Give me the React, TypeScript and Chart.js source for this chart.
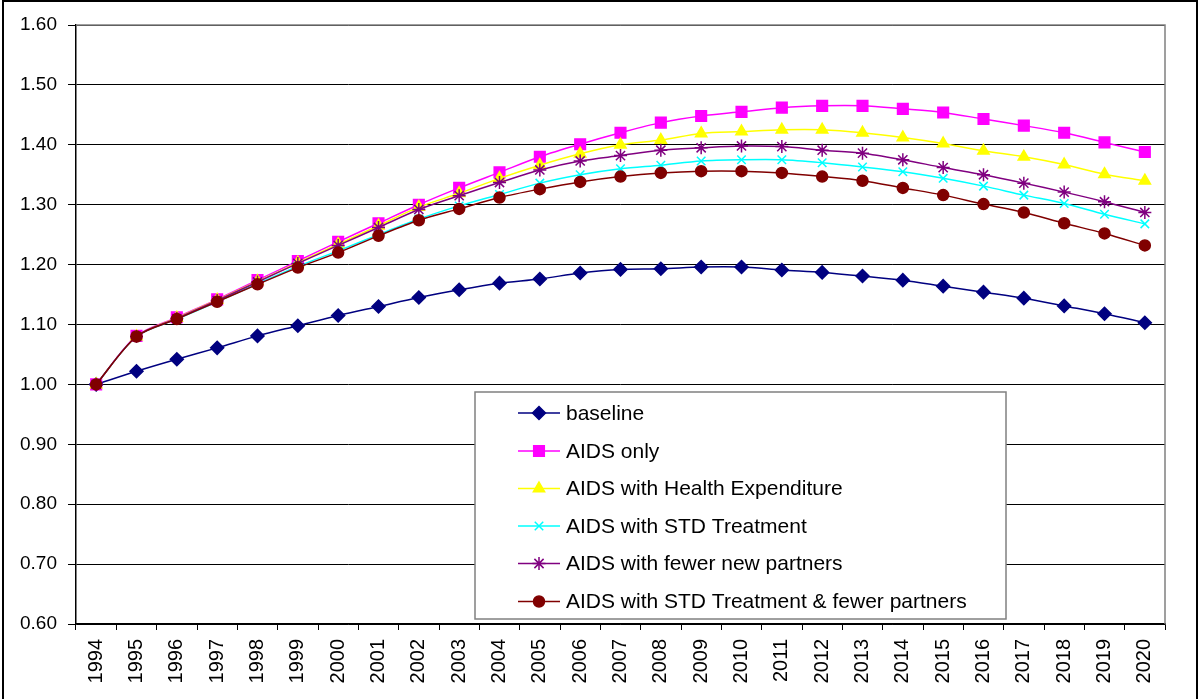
import React, { useEffect, useRef } from 'react';
import { Chart, registerables } from 'chart.js';
import { drawPoint } from 'chart.js/helpers';

Chart.register(...registerables);

const years = [
  '1994', '1995', '1996', '1997', '1998', '1999', '2000', '2001', '2002', '2003', '2004', '2005', '2006', '2007',
  '2008', '2009', '2010', '2011', '2012', '2013', '2014', '2015', '2016', '2017', '2018', '2019', '2020',
];

const baseline = [
  1.0, 1.022, 1.042, 1.061, 1.081, 1.098, 1.115, 1.13, 1.145, 1.158, 1.169, 1.176, 1.186, 1.192,
  1.193, 1.196, 1.196, 1.191, 1.187, 1.181, 1.174, 1.164, 1.154, 1.144, 1.131, 1.118, 1.103,
];
const aidsOnly = [
  1.0, 1.081, 1.112, 1.142, 1.174, 1.206, 1.238, 1.269, 1.3, 1.328, 1.354, 1.38, 1.401, 1.42,
  1.437, 1.448, 1.455, 1.462, 1.465, 1.465, 1.46, 1.454, 1.443, 1.432, 1.42, 1.404, 1.388,
];
const aidsHealth = [
  1.0, 1.08, 1.111, 1.141, 1.172, 1.203, 1.234, 1.265, 1.296, 1.319, 1.344, 1.366, 1.385, 1.4,
  1.408, 1.419, 1.422, 1.425, 1.425, 1.42, 1.412, 1.402, 1.39, 1.38, 1.367, 1.351, 1.34,
];
const aidsStd = [
  1.0, 1.08, 1.109, 1.138, 1.168, 1.197, 1.223, 1.25, 1.276, 1.298, 1.317, 1.336, 1.35, 1.36,
  1.366, 1.373, 1.375, 1.375, 1.37, 1.363, 1.355, 1.344, 1.331, 1.316, 1.302, 1.284, 1.268,
];
const aidsFewer = [
  1.0, 1.08, 1.11, 1.14, 1.171, 1.202, 1.232, 1.262, 1.292, 1.315, 1.337, 1.358, 1.373, 1.382,
  1.391, 1.395, 1.398, 1.397, 1.391, 1.386, 1.375, 1.362, 1.35, 1.336, 1.321, 1.305, 1.287,
];
const aidsStdFewer = [
  1.0, 1.08, 1.109, 1.138, 1.167, 1.195, 1.22, 1.248, 1.274, 1.293, 1.312, 1.326, 1.338, 1.347,
  1.353, 1.356, 1.356, 1.353, 1.347, 1.34, 1.328, 1.316, 1.301, 1.287, 1.269, 1.252, 1.232,
];

const seriesLabels = [
  'baseline',
  'AIDS only',
  'AIDS with Health Expenditure',
  'AIDS with STD Treatment',
  'AIDS with fewer new partners',
  'AIDS with STD Treatment & fewer partners',
];
const seriesData = [baseline, aidsOnly, aidsHealth, aidsStd, aidsFewer, aidsStdFewer];
const seriesColors = ['#000080', '#FF00FF', '#FFFF00', '#00FFFF', '#800080', '#800000'];
const seriesPointStyles = ['rectRot', 'rect', 'triangle', 'crossRot', 'star', 'circle'];
const seriesPointRadius = [6.5, 7.5, 6.5, 6, 6.5, 5.5];

const FONT = '"Liberation Sans", Arial, sans-serif';

const legendBox = { left: 475, top: 392, right: 1006, bottom: 619 };
const legendRows = [413, 451, 488.5, 526, 563.5, 601.5];

const customPlugin = {
  id: 'customDecor',
  afterDatasetsDraw(chart: any) {
    const ctx = chart.ctx;
    ctx.save();
    ctx.fillStyle = '#ffffff';
    ctx.fillRect(legendBox.left, legendBox.top, legendBox.right - legendBox.left, legendBox.bottom - legendBox.top);
    ctx.strokeStyle = '#808080';
    ctx.lineWidth = 1.5;
    ctx.strokeRect(legendBox.left, legendBox.top, legendBox.right - legendBox.left, legendBox.bottom - legendBox.top);
    chart.data.datasets.forEach((ds: any, i: number) => {
      const y = legendRows[i];
      ctx.strokeStyle = ds.borderColor;
      ctx.lineWidth = 1.5;
      ctx.beginPath();
      ctx.moveTo(518, y);
      ctx.lineTo(560, y);
      ctx.stroke();
      ctx.fillStyle = ds.pointBackgroundColor;
      ctx.strokeStyle = ds.pointBorderColor;
      ctx.lineWidth = ds.pointBorderWidth;
      drawPoint(ctx, { pointStyle: ds.pointStyle, radius: ds.pointRadius, rotation: 0, borderWidth: ds.pointBorderWidth }, 539, y);
      ctx.fillStyle = '#000000';
      ctx.font = `21px ${FONT}`;
      ctx.textBaseline = 'middle';
      ctx.textAlign = 'left';
      ctx.fillText(ds.label, 566, y + 1);
    });
    ctx.restore();
  },
  afterDraw(chart: any) {
    const ctx = chart.ctx;
    const a = chart.chartArea;
    ctx.save();
    ctx.strokeStyle = '#808080';
    ctx.lineWidth = 1.5;
    ctx.beginPath();
    ctx.moveTo(a.left, a.top);
    ctx.lineTo(a.right, a.top);
    ctx.lineTo(a.right, a.bottom);
    ctx.stroke();
    ctx.strokeStyle = '#000000';
    ctx.lineWidth = 2;
    ctx.strokeRect(3, 1, 1194, 710);
    ctx.restore();
  },
};

export default function App() {
  const ref = useRef<HTMLCanvasElement>(null);
  useEffect(() => {
    document.body.style.margin = '0';
    const datasets = seriesLabels.map((label, i) => ({
      label,
      data: seriesData[i],
      borderColor: seriesColors[i],
      backgroundColor: seriesColors[i],
      pointBackgroundColor: seriesColors[i],
      pointBorderColor: seriesColors[i],
      pointStyle: seriesPointStyles[i],
      pointRadius: seriesPointRadius[i],
      pointHoverRadius: seriesPointRadius[i],
      pointBorderWidth: 1.5,
      borderWidth: 1.5,
      tension: 0.3,
      fill: false,
      order: seriesLabels.length - i,
    }));
    const chart = new Chart(ref.current!, {
      type: 'line',
      data: { labels: years, datasets },
      options: {
        animation: false,
        responsive: false,
        maintainAspectRatio: false,
        layout: { padding: { top: 25, right: 34, left: 0, bottom: 0 } },
        plugins: {
          legend: { display: false },
          tooltip: { enabled: false },
        },
        scales: {
          x: {
            type: 'category',
            offset: true,
            afterFit: (s: any) => {
              s.height = 75;
            },
            grid: {
              display: true,
              drawOnChartArea: false,
              drawTicks: true,
              offset: true,
              tickLength: 6,
              color: '#000000',
              lineWidth: 1,
            },
            border: { display: true, color: '#000000', width: 1.5 },
            ticks: {
              autoSkip: false,
              maxRotation: 90,
              minRotation: 90,
              padding: 9,
              color: '#000000',
              font: { family: FONT, size: 20 },
            },
          },
          y: {
            min: 0.6,
            max: 1.6,
            afterFit: (s: any) => {
              s.width = 76;
            },
            grid: {
              color: '#000000',
              lineWidth: 1,
              drawTicks: true,
              tickLength: 8,
              tickColor: '#000000',
            },
            border: { display: true, color: '#000000', width: 1.5 },
            ticks: {
              stepSize: 0.1,
              padding: 11,
              color: '#000000',
              font: { family: FONT, size: 19 },
              callback: (v: any) => Number(v).toFixed(2),
            },
          },
        },
      },
      plugins: [customPlugin],
    });
    return () => chart.destroy();
  }, []);
  return (
    <div style={{ width: 1199, height: 699, position: 'relative', overflow: 'hidden' }}>
      <canvas ref={ref} width={1199} height={699} style={{ display: 'block', width: 1199, height: 699 }} />
    </div>
  );
}
